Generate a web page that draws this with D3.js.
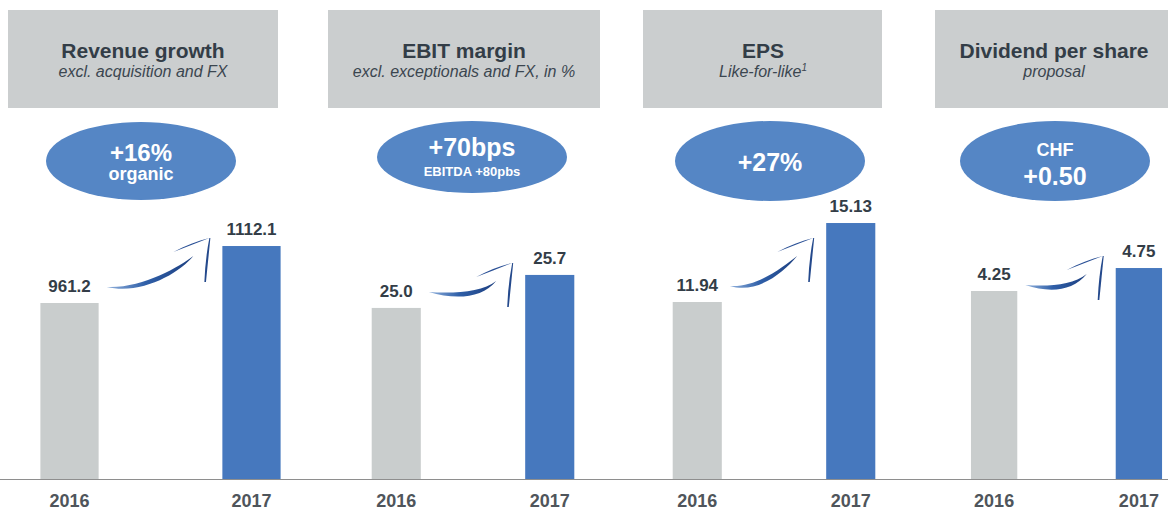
<!DOCTYPE html>
<html>
<head>
<meta charset="utf-8">
<script src="https://cdn.jsdelivr.net/npm/d3@7"></script>
<style>
  html, body { margin: 0; padding: 0; background: #fff; }
  svg { display: block; font-family: "Liberation Sans", Arial, sans-serif; }
</style>
</head>
<body>
<div id="chart"></div>
<script>
// KPI panels, values
const years = ['2016', '2017'];
const titles = ['Revenue growth', 'EBIT margin', 'EPS', 'Dividend per share'];
const subtitles = ['excl. acquisition and FX', 'excl. exceptionals and FX, in %', 'Like-for-like', 'proposal'];
const values2016 = [961.2, 25.0, 11.94, 4.25];
const values2017 = [1112.1, 25.7, 15.13, 4.75];
const valueLabels2016 = ['961.2', '25.0', '11.94', '4.25'];
const valueLabels2017 = ['1112.1', '25.7', '15.13', '4.75'];
const badgeMain = ['+16%', '+70bps', '+27%', '+0.50'];
const badgeSub = ['organic', 'EBITDA +80pbs', '', 'CHF'];
// each panel uses a truncated value axis
const axisMin = [495, 21.37, 4.79, 0.16];
const axisMax = [1234, 27.29, 16.06, 6.23];

// layout (pixels)
const width = 1168, height = 510;
const baseY = 479, topY = 200;
const layout = [
    { band: [4, 317], box: [8, 278], textX: 143, ell: [141, 161, 95, 39] },
    { band: [341, 605], box: [328, 600], textX: 464, ell: [472, 157, 95, 36] },
    { band: [642, 906], box: [643, 882], textX: 763, ell: [770, 161, 95, 40] },
    { band: [942, 1191], box: [935, 1185], textX: 1054, ell: [1055, 161, 95, 40] }
];
const colors = { gray: '#c9cdcd', blue: '#4678be', box: '#cbcecf', ellipse: '#5586c5', text: '#333d47' };

const svg = d3.select('#chart').append('svg')
    .attr('width', width)
    .attr('height', height);

const defs = svg.append('defs');
const grad = defs.append('linearGradient')
    .attr('id', 'swoosh')
    .attr('x1', '0%').attr('x2', '100%')
    .attr('y1', '0%').attr('y2', '0%');
grad.append('stop').attr('offset', '0%').attr('stop-color', '#8fb0dc');
grad.append('stop').attr('offset', '45%').attr('stop-color', '#2f5fa8');
grad.append('stop').attr('offset', '100%').attr('stop-color', '#1d3f80');

// baseline across the whole slide
svg.append('line')
    .attr('x1', 0).attr('x2', width)
    .attr('y1', baseY + 0.5).attr('y2', baseY + 0.5)
    .attr('stroke', '#8e8e8e')
    .attr('stroke-width', 1);

// tapered stroke between two points, bulging through the controls
function taper(p0, c1, c2, p1, w) {
    return `M${p0[0]},${p0[1]}` +
        `C${c1[0]},${c1[1] - w} ${c2[0]},${c2[1] - w} ${p1[0]},${p1[1]}` +
        `C${c2[0]},${c2[1] + w} ${c1[0]},${c1[1] + w} ${p0[0]},${p0[1]}Z`;
}

function drawArrow(g, s, t) {
    const e = [t[0] - 16, t[1] + 18];
    const dx = e[0] - s[0];
    g.append('path')
        .attr('d', taper(s, [s[0] + dx * 0.4, s[1] + 5], [e[0] - 14, e[1] + 14], e, 3.2))
        .attr('fill', 'url(#swoosh)');
    // upper barb, nearly straight
    const l = [t[0] - 36, t[1] + 14];
    g.append('path')
        .attr('d', taper(l, [l[0] + 12, l[1] - 5.5], [t[0] - 12, t[1] + 4], t, 0.9))
        .attr('fill', '#2a5096');
    // lower barb, dropping from the tip
    const d = [t[0] - 5, t[1] + 44];
    g.append('path')
        .attr('d', `M${t[0]},${t[1]} Q${t[0] - 4},${t[1] + 20} ${d[0]},${d[1]} L${d[0] + 1.6},${d[1]} Q${t[0] - 1},${t[1] + 20} ${t[0] + 1},${t[1]} Z`)
        .attr('fill', '#24498c');
}

titles.forEach((title, i) => {
    const L = layout[i];
    const g = svg.append('g').attr('class', 'panel');

    // header box
    g.append('rect')
        .attr('x', L.box[0]).attr('y', 10)
        .attr('width', L.box[1] - L.box[0]).attr('height', 98)
        .attr('fill', colors.box);
    g.append('text')
        .attr('x', L.textX).attr('y', 58)
        .attr('text-anchor', 'middle')
        .attr('font-size', 21).attr('font-weight', 'bold')
        .attr('fill', colors.text)
        .text(title);
    const sub = g.append('text')
        .attr('x', L.textX).attr('y', 77)
        .attr('text-anchor', 'middle')
        .attr('font-size', 16).attr('font-style', 'italic')
        .attr('fill', '#3b4650')
        .text(subtitles[i]);
    if (i === 2) {
        sub.append('tspan').attr('font-size', 10).attr('dy', -6).text('1');
    }

    // growth badge
    const [ecx, ecy, erx, ery] = L.ell;
    g.append('ellipse')
        .attr('cx', ecx).attr('cy', ecy)
        .attr('rx', erx).attr('ry', ery)
        .attr('fill', colors.ellipse);
    const badge = g.append('g').attr('fill', '#fff').attr('font-weight', 'bold').attr('text-anchor', 'middle');
    if (i === 0) {
        badge.append('text').attr('x', ecx).attr('y', ecy).attr('font-size', 24).text(badgeMain[i]);
        badge.append('text').attr('x', ecx).attr('y', ecy + 19).attr('font-size', 18).text(badgeSub[i]);
    } else if (i === 1) {
        badge.append('text').attr('x', ecx).attr('y', ecy - 1).attr('font-size', 25).text(badgeMain[i]);
        badge.append('text').attr('x', ecx).attr('y', ecy + 19).attr('font-size', 13).text(badgeSub[i]);
    } else if (i === 2) {
        badge.append('text').attr('x', ecx).attr('y', ecy + 10).attr('font-size', 25).text(badgeMain[i]);
    } else {
        badge.append('text').attr('x', ecx).attr('y', ecy - 5).attr('font-size', 18).text(badgeSub[i]);
        badge.append('text').attr('x', ecx).attr('y', ecy + 24).attr('font-size', 25).text(badgeMain[i]);
    }

    // scales
    const x = d3.scaleBand()
        .domain(years)
        .range(L.band)
        .paddingInner(0.68)
        .paddingOuter(0.2);
    const y = d3.scaleLinear()
        .domain([axisMin[i], axisMax[i]])
        .range([baseY, topY]);

    const rows = [
        { year: years[0], value: values2016[i], label: valueLabels2016[i], color: colors.gray },
        { year: years[1], value: values2017[i], label: valueLabels2017[i], color: colors.blue }
    ];

    g.selectAll('rect.bar')
        .data(rows)
        .enter()
        .append('rect')
        .attr('class', 'bar')
        .attr('x', d => x(d.year))
        .attr('y', d => y(d.value))
        .attr('width', x.bandwidth())
        .attr('height', d => baseY - y(d.value))
        .attr('fill', d => d.color);

    g.selectAll('text.value')
        .data(rows)
        .enter()
        .append('text')
        .attr('class', 'value')
        .attr('x', d => x(d.year) + x.bandwidth() / 2)
        .attr('y', d => y(d.value) - 11)
        .attr('text-anchor', 'middle')
        .attr('font-size', 17).attr('font-weight', 'bold')
        .attr('fill', colors.text)
        .text(d => d.label);

    // x axis labels (no ticks, no domain line)
    const axis = g.append('g')
        .attr('transform', `translate(0,${baseY})`)
        .call(d3.axisBottom(x).tickSize(0).tickPadding(15));
    axis.select('.domain').remove();
    axis.selectAll('text')
        .attr('font-size', 18).attr('font-weight', 'bold')
        .attr('font-family', '"Liberation Sans", Arial, sans-serif')
        .attr('fill', '#4f555b');

    // swoosh arrow from the 2016 label to the 2017 bar
    const grayRight = x(years[0]) + x.bandwidth();
    const blueLeft = x(years[1]);
    const start = [grayRight + 8, Math.max(y(values2016[i]) - 16, 285)];
    const tip = [blueLeft - 13, Math.max(y(values2017[i]) - 12, 238)];
    drawArrow(g, start, tip);
});
</script>
</body>
</html>
